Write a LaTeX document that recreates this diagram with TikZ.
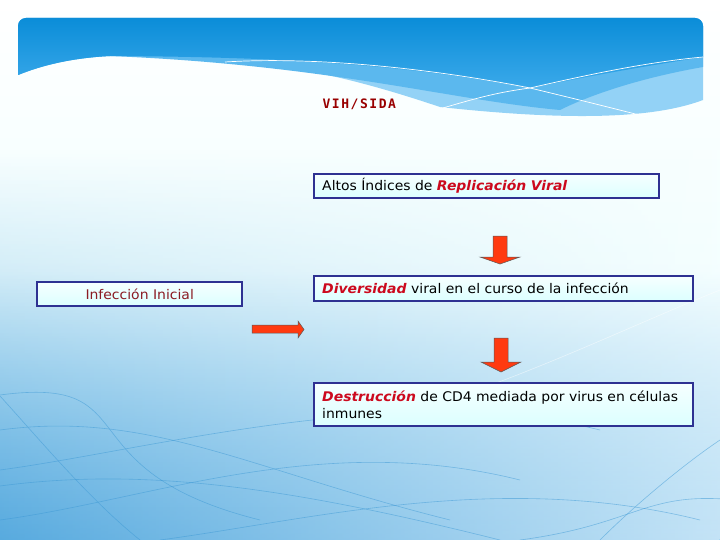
\documentclass[tikz,border=0pt]{standalone}
\usepackage{fontspec}
\setmainfont{DejaVu Sans}[FakeStretch=1.05]
\newfontfamily\titlefont{DejaVu Sans Mono}[LetterSpace=12]
\usepackage{tikz}
\usetikzlibrary{arrows.meta, positioning, fadings}

\definecolor{navy}{HTML}{2E3192}
\definecolor{redtxt}{HTML}{CC0A1E}
\definecolor{maroon}{HTML}{8B1C24}
\definecolor{arrowred}{HTML}{FF3A10}
\definecolor{bandtop}{HTML}{0B8DD8}
\definecolor{bandbot}{HTML}{3AA9EA}
\definecolor{bandmid}{HTML}{5BB8EE}
\definecolor{bandlight}{HTML}{93D2F6}
\definecolor{bglow}{HTML}{7CC2EC}
\definecolor{wave}{HTML}{3A97D4}

\newcommand{\hl}[1]{\textcolor{redtxt}{\textbf{\textit{#1}}}}
% block arrow pointing down: centre x, top y, head y, tip y
\newcommand{\downblock}[4]{\draw[blockarr] (#1-7,#2) -- (#1+7,#2) -- (#1+7,#3) -- (#1+20,#3) -- (#1,#4) -- (#1-20,#3) -- (#1-7,#3) -- cycle;}

\begin{document}
\begin{tikzpicture}[x=1pt, y=-1pt,
        box/.style={rectangle, draw=navy, line width=2.4pt, top color=white!70!cyan!12, bottom color=cyan!14,
            anchor=north west, inner xsep=8pt, inner ysep=2pt, align=left, font=\fontsize{13.3}{16.5}\selectfont},
        blockarr/.style={draw=black!65, line width=0.5pt, fill=arrowred}
    ]
    \useasboundingbox (0,0) rectangle (720,540);

    % Background
    \shade[top color=white, bottom color=bglow, middle color=blue!4!cyan!5] (0,0) rectangle (720,540);
    \shade[left color=wave, right color=white, opacity=0.55, path fading=north] (0,150) rectangle (720,540);
    \foreach \a/\b/\c/\d in {0/486/300/490, 0/520/320/430, 0/470/400/380, 0/430/250/470, 160/540/500/470, 520/540/640/470, 0/395/60/470}
        \draw[wave, opacity=0.5, line width=0.6pt] (\a,\b) .. controls (\a+150,\b-20) and (\c,\d) .. (\c+200,\d+50);
    \draw[wave, opacity=0.5, line width=0.6pt] (0,396) .. controls (40,440) and (90,500) .. (140,540);
    \draw[wave, opacity=0.5, line width=0.6pt] (600,540) .. controls (640,500) and (690,460) .. (720,440);
    \draw[white, opacity=0.5, line width=0.6pt] (380,420) .. controls (500,390) and (620,330) .. (720,290);

    % Banner
    \fill[bandlight] (18,26) arc (180:270:8) -- (695,18) arc (270:360:8) -- (703,100)
        .. controls (650,120) and (560,120) .. (440,107) .. controls (330,70) and (250,55) .. (110,56)
        .. controls (70,58) and (40,66) .. (18,75) -- cycle;
    \fill[bandmid] (18,26) arc (180:270:8) -- (695,18) arc (270:360:8) -- (703,67)
        .. controls (640,78) and (590,95) .. (560,110) .. controls (450,100) and (330,65) .. (110,56)
        .. controls (70,58) and (40,66) .. (18,75) -- cycle;
    \shade[top color=bandtop, bottom color=bandbot] (18,26) arc (180:270:8) -- (695,18) arc (270:360:8) -- (703,57)
        .. controls (620,70) and (560,82) .. (530,88) .. controls (430,70) and (330,57) .. (110,56)
        .. controls (70,58) and (40,66) .. (18,75) -- cycle;
    \draw[white, line width=0.7pt] (225,62) .. controls (320,56) and (440,70) .. (530,88) .. controls (580,100) and (620,110) .. (647,117);
    \draw[white, line width=0.7pt] (443,108) .. controls (480,97) and (500,92) .. (530,88) .. controls (600,72) and (650,62) .. (703,57);

    % Title
    \node[text=red!60!black, font=\titlefont\bfseries\fontsize{13}{13}\selectfont, anchor=west] (title) at (319,104) {VIH/SIDA};

    % Boxes
    \node[box, text width=329pt, minimum height=24pt] (repl) at (313,173) {Altos Índices de \hl{Replicación Viral}};
    \node[box, text width=363pt, minimum height=25pt] (divers) at (313,275) {\hl{Diversidad} viral en el curso de la infección};
    \node[box, text width=363pt, minimum height=43pt] (destr) at (313,382) {\hl{Destrucción} de CD4 mediada por virus en células\\inmunes};
    \node[box, text width=189pt, minimum height=24pt, align=center, text=maroon] (inic) at (36,281) {Infección Inicial};

    % Arrows
    \downblock{500}{236}{257}{264}
    \downblock{501}{338}{362}{372}
    \draw[blockarr] (252,325) -- (298,325) -- (298,321) -- (304,329.5) -- (298,338) -- (298,333) -- (252,333) -- cycle;
\end{tikzpicture}
\end{document}
